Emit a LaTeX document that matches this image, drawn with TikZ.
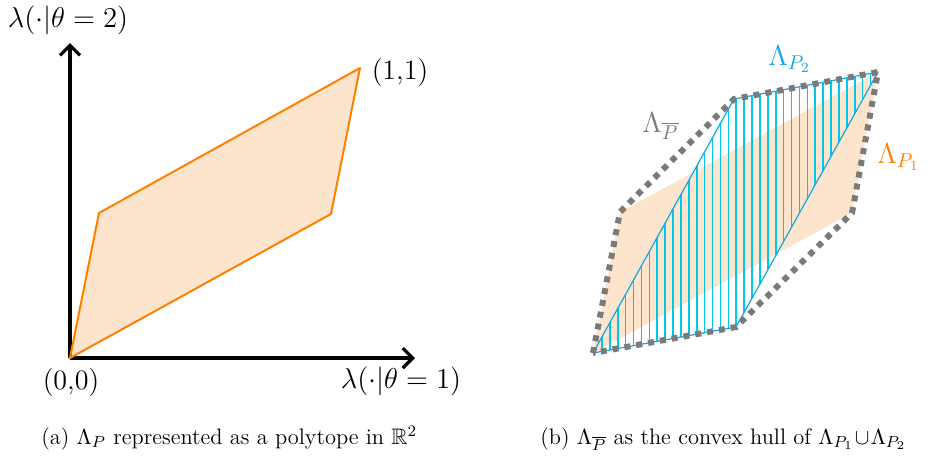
\documentclass[tikz,border=0pt]{standalone}
\usepackage{amssymb}
\usetikzlibrary{arrows.meta}
\definecolor{porange}{RGB}{255,128,0}
\definecolor{pfill}{RGB}{253,228,204}
\definecolor{pcyan}{RGB}{20,165,230}
\definecolor{phatch}{RGB}{0,200,230}
\definecolor{pgray}{RGB}{122,122,122}
\tikzset{
  axis/.style={line width=2pt,-{Straight Barb[length=5pt,width=10pt,line width=1.6pt]}},
  hull/.style={draw=pgray,line width=3pt,dash pattern=on 3pt off 3pt},
  bigtxt/.style={font=\fontsize{14}{16}\selectfont,inner sep=0pt},
  midtxt/.style={font=\fontsize{14}{16}\selectfont,inner sep=0pt},
  captxt/.style={font=\fontsize{11.2}{13}\selectfont,inner sep=0pt,anchor=base west}
}
\begin{document}
\begin{tikzpicture}[x=0.5pt,y=-0.5pt]
\useasboundingbox (0,0) rectangle (943,457);
% ---------- left ----------
\coordinate (O) at (70,358);
\coordinate (A1) at (99,213);
\coordinate (A2) at (360,68);
\coordinate (A3) at (331,214);
\coordinate (XE) at (415,358);
\coordinate (YE) at (70,43);
\fill[pfill] (O) -- (A1) -- (A2) -- (A3) -- cycle;
\draw[axis] (O) -- (XE);
\draw[axis] (O) -- (YE);
\draw[draw=porange,line width=1pt,line join=round] (O) -- (A1) -- (A2) -- (A3) -- cycle;
\node[bigtxt] (ly) at (68,20) {$\lambda(\cdot|\theta=2)$};
\node[bigtxt] (l11) at (400,73) {(1,1)};
\node[bigtxt] (l00) at (71,383) {(0,0)};
\node[bigtxt] (lx) at (401,381) {$\lambda(\cdot|\theta=1)$};
% ---------- right ----------
\coordinate (B0) at (593,353);
\coordinate (B1) at (620,212);
\coordinate (B2) at (878,72);
\coordinate (B3) at (852,213);
\coordinate (C1) at (736,327);
\coordinate (C3) at (734,99);
\fill[pfill] (B0) -- (B1) -- (B2) -- (B3) -- cycle;
\begin{scope}
  \clip (B0) -- (C1) -- (B2) -- (C3) -- cycle;
  \foreach \i in {0,...,36} {
    \draw[phatch,line width=0.8pt] (594+\i*7.9,60) -- (594+\i*7.9,360);
  }
\end{scope}
\draw[pcyan,line width=0.6pt,line join=round] (B0) -- (C1) -- (B2) -- (C3) -- cycle;
\draw[hull] (B0) -- (B1) -- (C3) -- (B2) -- (B3) -- (C1) -- cycle;
\node[midtxt,text=pcyan,anchor=base west] (lp2) at (768,65) {$\Lambda_{P_2}$};
\node[midtxt,text=porange,anchor=base west] (lp1) at (877,163) {$\Lambda_{P_1}$};
\node[midtxt,text=pgray,anchor=base west] (lpb) at (642,132) {$\Lambda_{\overline{P}}$};
% ---------- captions ----------
\node[captxt] (capa) at (41,444) {(a) $\Lambda_P$ represented as a polytope in $\mathbb{R}^2$};
\node[captxt] (capb) at (540,444) {(b) $\Lambda_{\overline{P}}$ as the convex hull of $\Lambda_{P_1}\!\cup\!\Lambda_{P_2}$};
\end{tikzpicture}
\end{document}
